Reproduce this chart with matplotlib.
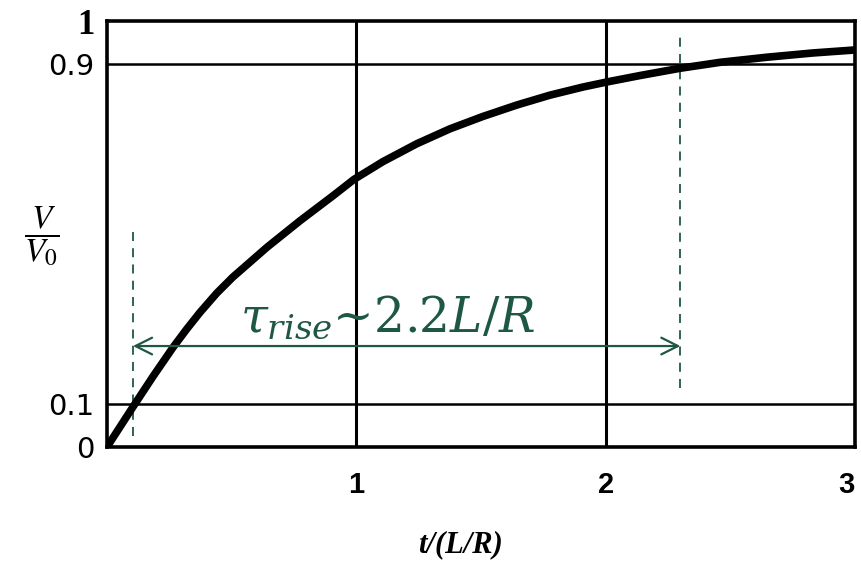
import matplotlib
matplotlib.use("Agg")
import matplotlib.pyplot as plt

# Curva (t en unidades de L/R, V/V0)
t_vals = [0, 0.104, 0.185, 0.265, 0.32, 0.373, 0.44, 0.505, 0.642, 0.774, 0.907,
          0.99, 1.107, 1.243, 1.376, 1.508, 1.645, 1.777, 1.909, 2.006,
          2.138, 2.298, 2.459, 2.647, 2.832, 3.0]
v_vals = [0, 0.094, 0.166, 0.234, 0.277, 0.316, 0.361, 0.399, 0.469, 0.531, 0.590,
          0.628, 0.670, 0.712, 0.747, 0.776, 0.803, 0.826, 0.845, 0.857,
          0.872, 0.889, 0.903, 0.915, 0.925, 0.932]

x_ticks = [1, 2, 3]
x_tick_labels = ["1", "2", "3"]
y_ticks = [0, 0.1, 0.9, 1]
y_tick_labels = ["0", "0.1", "0.9", "1"]

# Marcas del tiempo de subida (10% y 90%)
t_10 = 0.104
t_90 = 2.30
texto_rise = r"$\tau_{rise}$~$2.2L/R$"

verde = "#1f5747"

fig = plt.figure(figsize=(8.61, 5.66), dpi=100)
ax = fig.add_axes([107 / 861, 1 - 447 / 566, 748 / 861, 426 / 566])

# Cuadrícula a mano: verticales en 1 y 2, horizontales en 0.1 y 0.9
for xv in [1, 2]:
    ax.axvline(xv, color="black", lw=2.2, zorder=1)
for yv in [0.1, 0.9]:
    ax.axhline(yv, color="black", lw=1.8, zorder=1)

# Curva principal
ax.plot(t_vals, v_vals, color="black", lw=5.5, solid_capstyle="round",
        solid_joinstyle="round", zorder=3)

# Líneas punteadas verdes
ax.plot([t_10, t_10], [0.026, 0.514], color=verde, lw=1.3, ls=(0, (5, 4)), zorder=2)
ax.plot([t_90, t_90], [0.138, 0.972], color=verde, lw=1.3, ls=(0, (5, 4)), zorder=2)

# Flecha doble
ax.annotate("", xy=(t_10, 0.237), xytext=(t_90, 0.237),
            arrowprops=dict(arrowstyle="<->", color=verde, lw=1.6,
                            mutation_scale=30, shrinkA=0, shrinkB=0),
            zorder=4)
ax.text(0.534, 0.272, texto_rise, color=verde, fontsize=35,
        family="DejaVu Serif", math_fontfamily="dejavuserif",
        ha="left", va="baseline", zorder=5)

ax.set_xlim(0, 3)
ax.set_ylim(0, 1)

for spine in ax.spines.values():
    spine.set_linewidth(2.6)
    spine.set_color("black")

ax.set_xticks(x_ticks)
ax.set_xticklabels(x_tick_labels, fontsize=21, fontweight="bold",
                   family="Liberation Sans")
ax.get_xticklabels()[-1].set_horizontalalignment("right")
ax.set_yticks(y_ticks)
ax.set_yticklabels(y_tick_labels, fontsize=21, family="DejaVu Sans")
ax.tick_params(axis="x", length=0, pad=17)
ax.tick_params(axis="y", length=0, pad=9)
etiquetas_y = ax.get_yticklabels()
etiquetas_y[-1].set_family("Liberation Serif")
etiquetas_y[-1].set_fontweight("bold")
etiquetas_y[-1].set_fontsize(25)

# Etiquetas de los ejes
fig.text(42 / 861, 1 - 236 / 566, r"$\dfrac{V}{V_0}$", fontsize=24,
         math_fontfamily="stix", ha="center", va="center")
fig.text(460 / 861, 1 - 545 / 566, "t/(L/R)", fontsize=22,
         family="Liberation Serif", fontweight="bold", style="italic",
         ha="center", va="center")

fig.savefig("out.png", dpi=100)
plt.close(fig)
